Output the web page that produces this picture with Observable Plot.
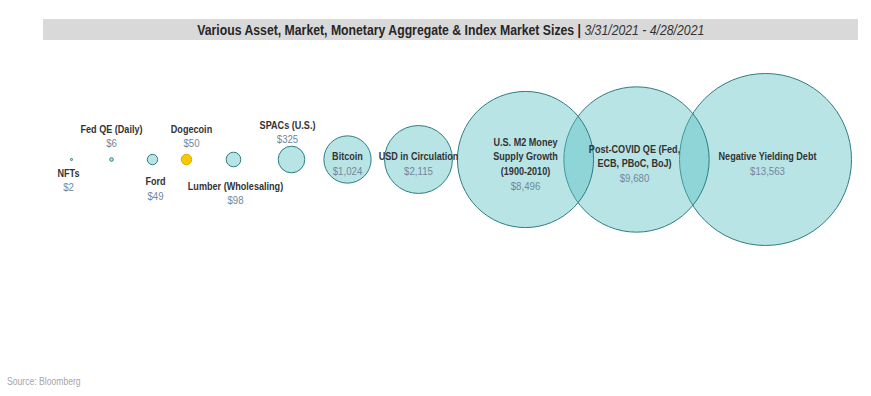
<!DOCTYPE html>
<html>
<head>
<meta charset="utf-8">
<script src="https://cdn.jsdelivr.net/npm/d3@7"></script>
<script src="https://cdn.jsdelivr.net/npm/@observablehq/plot@0.6"></script>
<style>
  body { margin: 0; background: #fff; width: 871px; height: 396px; overflow: hidden; font-family: "Liberation Sans", Arial, sans-serif; }
  #title { position: absolute; left: 43px; top: 19px; width: 815px; height: 21px; background: #d9d9d9; text-align: center; line-height: 22px; font-size: 14px; color: #262626; white-space: nowrap; }
  #title span.inner { display: inline-block; transform: scaleX(0.875); transform-origin: center; }
  #title b { font-weight: bold; }
  #title i { font-style: italic; font-weight: normal; color: #333; }
  #chart { position: absolute; left: 0; top: 40px; }
  #source { position: absolute; left: 7px; top: 376px; font-size: 10px; color: #a6a6a6; transform: scaleX(0.86); transform-origin: left center; }
</style>
</head>
<body>
<div id="title"><span class="inner"><b>Various Asset, Market, Monetary Aggregate &amp; Index Market Sizes | </b> <i>3/31/2021 - 4/28/2021</i></span></div>
<div id="chart"></div>
<div id="source">Source: Bloomberg</div>
<script>
// ---- data ----
const names = ["NFTs", "Fed QE (Daily)", "Ford", "Dogecoin", "Lumber (Wholesaling)", "SPACs (U.S.)", "Bitcoin", "USD in Circulation", "U.S. M2 Money\nSupply Growth\n(1900-2010)", "Post-COVID QE (Fed,\nECB, PBoC, BoJ)", "Negative Yielding Debt"];
const values = [2, 6, 49, 50, 98, 325, 1024, 2115, 8496, 9680, 13563];
const highlighted = ["Dogecoin"];

// ---- layout (not data) ----
const slot = [71, 111, 152, 186, 233, 291, 347, 418, 525, 636, 765];
const labelDx = [-3, 0, 3, 5, 2, -4, 0, 0, 0, -2, 2];
const labelPlace = ["below", "above", "below", "above", "below", "above", "inside", "inside", "inside", "inside", "inside"];

const W = 871, H = 330, cy = 119;
const rMax = 86;
const rScale = d3.scaleSqrt().domain([0, d3.max(values)]).range([0, rMax]);
const fmt = v => "$" + d3.format(",")(v);

const rows = names.map((name, i) => {
  const r = rScale(values[i]);
  const lines = name.split("\n").length;
  let nameY, valueY;
  if (labelPlace[i] === "above") {
    nameY = cy - 25.4 - Math.max(r, 8) * 0.7;
    valueY = nameY + 15;
  } else if (labelPlace[i] === "below") {
    nameY = cy + 2 * r + 11;
    valueY = nameY + 15;
  } else {
    nameY = cy - 3.5;
    valueY = cy + 4 + lines * 7.5;
  }
  return {name, value: values[i], x: slot[i], lx: slot[i] + labelDx[i], y: cy, nameY, valueY, hi: highlighted.includes(name)};
});

const font = "Liberation Sans, Arial, sans-serif";
const chart = Plot.plot({
  width: W,
  height: H,
  margin: 0,
  x: {domain: [0, W], axis: null},
  y: {domain: [0, H], range: [0, H], axis: null},
  r: {domain: [0, d3.max(values)], range: [0, rMax]},
  style: {background: "transparent", overflow: "visible"},
  marks: [
    Plot.dot(rows, {
      x: "x", y: "y", r: "value",
      fill: d => d.hi ? "#f7c900" : "#56bfc3",
      fillOpacity: d => d.hi ? 1 : 0.42,
      stroke: d => d.hi ? "#d9a900" : "#2f7d7f",
      strokeWidth: 1
    }),
    Plot.text(rows, {
      x: "lx", y: "nameY", text: "name",
      fontFamily: font, fontWeight: "bold", fontSize: 11.5,
      fill: "#333333", lineHeight: 1.22, lineAnchor: "middle",
      className: "narrow-name"
    }),
    Plot.text(rows, {
      x: "lx", y: "valueY", text: d => fmt(d.value),
      fontFamily: font, fontSize: 11.5,
      fill: "#72879b", lineAnchor: "middle",
      className: "narrow-value"
    })
  ]
});
// condense the label type (the reference uses a narrow face):
// append a horizontal scale after Plot's own translate, so the anchor stays put
function condense(sel, s) {
  chart.querySelectorAll(sel).forEach(t => {
    const tr = t.getAttribute("transform");
    if (tr) {
      t.setAttribute("transform", tr + ` scale(${s},1)`);
    } else {
      const x = +t.getAttribute("x") || 0;
      t.setAttribute("transform", `translate(${x},0) scale(${s},1) translate(${-x},0)`);
    }
  });
}
condense(".narrow-name text", 0.79);
condense(".narrow-value text", 0.84);
document.getElementById("chart").appendChild(chart);
</script>
</body>
</html>
